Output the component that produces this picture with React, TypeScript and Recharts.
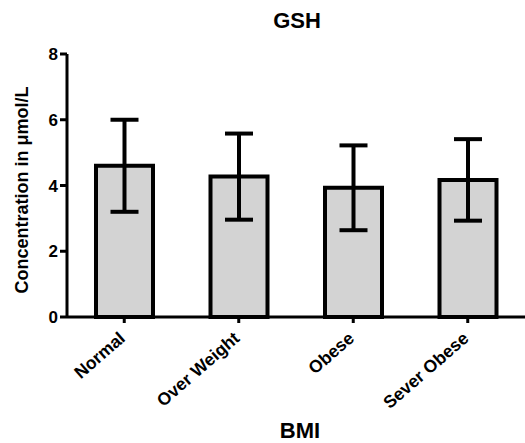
import { Bar, BarChart, ErrorBar, XAxis, YAxis } from 'recharts'

const categories = ['Normal', 'Over Weight', 'Obese', 'Sever Obese']
const means = [4.6, 4.27, 3.93, 4.17]
const errors = [1.4, 1.31, 1.29, 1.24]
const yTicks = [0, 2, 4, 6, 8]

const data = categories.map((name, i) => ({ name, mean: means[i], err: errors[i] }))

const FONT = '"Liberation Sans", Arial, sans-serif'

// rotated category labels, right end anchored under the tick
function CategoryTick({ x, y, payload }: any) {
  return (
    <g transform={`translate(${x + 2},${y + 17})`}>
      <text
        transform="rotate(-41)"
        textAnchor="end"
        fontFamily={FONT}
        fontWeight="bold"
        fontSize={17.5}
        fill="#000"
      >
        {payload.value}
      </text>
    </g>
  )
}

export default function App() {
  return (
    <div style={{ position: 'absolute', left: 0, top: 0, background: '#fff' }}>
      <BarChart
        width={525}
        height={443}
        data={data}
        margin={{ top: 54, right: 0, bottom: 0, left: 0 }}
        barCategoryGap={0}
      >
        <XAxis
          dataKey="name"
          height={126}
          axisLine={{ stroke: '#000', strokeWidth: 3 }}
          tickLine={{ stroke: '#000', strokeWidth: 3 }}
          tickSize={6}
          tickMargin={0}
          tick={<CategoryTick />}
          interval={0}
        />
        <YAxis
          width={67}
          domain={[0, 8]}
          ticks={yTicks}
          axisLine={{ stroke: '#000', strokeWidth: 3 }}
          tickLine={{ stroke: '#000', strokeWidth: 3 }}
          tickSize={7}
          tickMargin={2}
          tick={{ fill: '#000', fontFamily: FONT, fontWeight: 'bold', fontSize: 17 }}
        />
        <Bar
          dataKey="mean"
          fill="#d3d3d3"
          stroke="#000"
          strokeWidth={4}
          barSize={57}
          isAnimationActive={false}
        >
          <ErrorBar dataKey="err" width={14} stroke="#000" strokeWidth={4} direction="y" />
        </Bar>
        <text x={297} y={28} textAnchor="middle" fontFamily={FONT} fontWeight="bold" fontSize={22} fill="#000">
          GSH
        </text>
        <text x={300} y={438} textAnchor="middle" fontFamily={FONT} fontWeight="bold" fontSize={22} fill="#000">
          BMI
        </text>
        <text
          x={28}
          y={190}
          transform="rotate(-90, 28, 190)"
          textAnchor="middle"
          fontFamily={FONT}
          fontWeight="bold"
          fontSize={18}
          fill="#000"
        >
          Concentration in μmol/L
        </text>
      </BarChart>
    </div>
  )
}
